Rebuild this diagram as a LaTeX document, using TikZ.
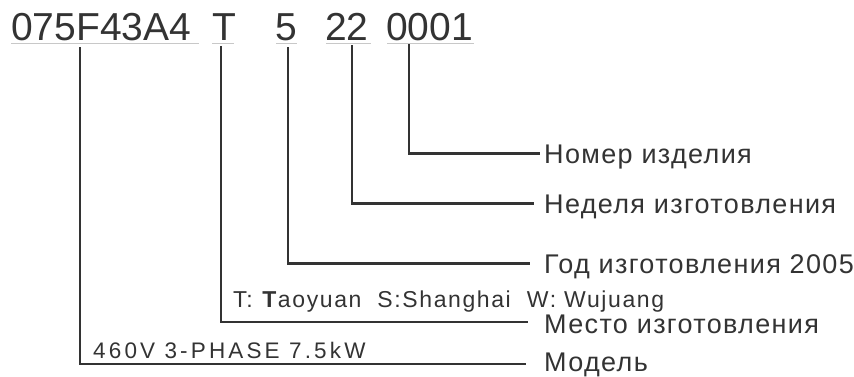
\documentclass[tikz,border=0pt]{standalone}
\usepackage{fontspec}
\setmainfont{Liberation Sans}
\newfontfamily\codef{Liberation Sans}
\newfontfamily\labf[LetterSpace=5]{Liberation Sans}
\newfontfamily\midf[LetterSpace=7]{Liberation Sans}
\newfontfamily\midg[LetterSpace=14]{Liberation Sans}
\definecolor{ink}{HTML}{333333}
\definecolor{ulc}{HTML}{C8C8C8}
\begin{document}
\begin{tikzpicture}[x=1pt,y=-1pt,
  code/.style={inner sep=0, anchor=base west, text=ink, font=\codef\fontsize{39}{39}\selectfont},
  lab/.style={inner sep=0, anchor=base west, text=ink, font=\labf\fontsize{27}{27}\selectfont},
  midt/.style={inner sep=0, anchor=base west, text=ink, font=\midf\fontsize{23}{23}\selectfont},
  ul/.style={draw=ulc, line width=1.2pt},
  conn/.style={draw=ink, line width=2.5pt, line join=miter}]
\useasboundingbox (0,0) rectangle (854,376);
% code parts
\node[code] (c1) at (11,40) {075F43A4};
\node[code] (c2) at (212,40) {T};
\node[code] (c3) at (275,40) {5};
\node[code] (c4) at (325,40) {22};
\node[code] (c5) at (386,40) {0001};
\draw[ul] (11,43.5) -- (199,43.5);
\draw[ul] (212,43.5) -- (234,43.5);
\draw[ul] (276,43.5) -- (297,43.5);
\draw[ul] (326,43.5) -- (371,43.5);
\draw[ul] (387,43.5) -- (474,43.5);
% labels
\node[lab] (l5) at (544,163) {Номер изделия};
\node[lab] (l4) at (544,213) {Неделя изготовления};
\node[lab] (l3) at (544,273) {Год изготовления 2005};
\node[lab] (l2) at (544,333) {Место изготовления};
\node[lab] (l1) at (544,371) {Модель};
% middle texts
\node[midt] (m2) at (233,307) {T: \textbf{T}aoyuan\ \ S:Shanghai\ \ W: Wujuang};
\node[midt,font=\midg\fontsize{22.5}{22.5}\selectfont] (m1) at (93,358) {460V 3-PHASE 7.5kW};
% tick tops
\coordinate (t1) at (80,47);
\coordinate (t2) at (221,46);
\coordinate (t3) at (288,47);
\coordinate (t4) at (352,45);
\coordinate (t5) at (409,44);
% connectors
\draw[conn] (t5) |- ([shift={(-4,-9.5)}]l5.base west);
\draw[conn] (t4) |- ([shift={(-10,-9.5)}]l4.base west);
\draw[conn] (t3) |- ([shift={(-14,-9.5)}]l3.base west);
\draw[conn] (t2) |- ([shift={(-16,-11)}]l2.base west);
\draw[conn] (t1) |- ([shift={(-18,-7)}]l1.base west);
\end{tikzpicture}
\end{document}
